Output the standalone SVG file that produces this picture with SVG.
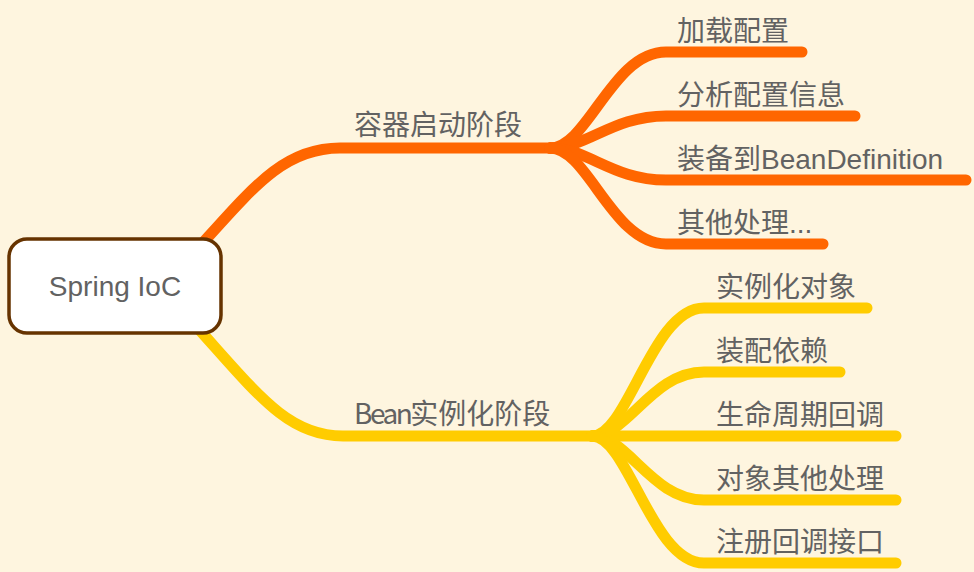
<svg xmlns="http://www.w3.org/2000/svg" width="974" height="572" viewBox="0 0 974 572">
<style>
  .bg { fill: #FEF5DF; }
  .br { fill: none; stroke-width: 11; stroke-linecap: round; stroke-linejoin: round; }
  .o { stroke: #FF6600; }
  .y { stroke: #FFCC00; }
  .t { font-family: "Liberation Sans", "Noto Sans CJK SC", sans-serif; font-size: 28px; fill: #626262; }
  .cjk { font-family: "Noto Sans CJK SC", "Liberation Sans", sans-serif; }
  .root { fill: #FFFFFF; stroke: #663300; stroke-width: 3.5; }
</style>
<rect class="bg" x="0" y="0" width="974" height="572"/>
<g id="connectors">
  <path class="br o" d="M200,246 C 255,185 285,148 340,148 L 550,148"/>
  <path class="br o" d="M550,148 C 588,148 612,52 666,52 L 802,52"/>
  <path class="br o" d="M550,148 C 588,148 612,116 666,116 L 855,116"/>
  <path class="br o" d="M550,148 C 588,148 612,180 666,180 L 966,180"/>
  <path class="br o" d="M550,148 C 588,148 612,244 666,244 L 823,244"/>
  <path class="br y" d="M196,326 C 258,395 288,436 343,436 L 592,436"/>
  <path class="br y" d="M592,436 C 628,436 652,308 704,308 L 867,308"/>
  <path class="br y" d="M592,436 C 628,436 652,372 704,372 L 840,372"/>
  <path class="br y" d="M592,436 L 896,436"/>
  <path class="br y" d="M592,436 C 628,436 652,500 704,500 L 896,500"/>
  <path class="br y" d="M592,436 C 628,436 652,563 704,563 L 896,563"/>
</g>
<g id="root">
  <rect class="root" x="9" y="239" width="212" height="94" rx="18"/>
  <text class="t" x="115" y="296" text-anchor="middle">Spring IoC</text>
</g>
<g id="n-container"><text class="t" x="354" y="135">容器启动阶段</text></g>
<g id="n-load"><text class="t" x="677" y="41">加载配置</text></g>
<g id="n-parse"><text class="t" x="677" y="105">分析配置信息</text></g>
<g id="n-beandef"><text class="t" x="677" y="169">装备到BeanDefinition</text></g>
<g id="n-other"><text class="t" x="677" y="233">其他处理...</text></g>
<g id="n-bean"><text class="t cjk" x="354" y="424"><tspan letter-spacing="-2.5">Bean</tspan>实例化阶段</text></g>
<g id="n-inst"><text class="t" x="716" y="297">实例化对象</text></g>
<g id="n-wire"><text class="t" x="716" y="361">装配依赖</text></g>
<g id="n-life"><text class="t" x="716" y="425">生命周期回调</text></g>
<g id="n-objother"><text class="t" x="716" y="489">对象其他处理</text></g>
<g id="n-reg"><text class="t" x="716" y="552">注册回调接口</text></g>
</svg>
